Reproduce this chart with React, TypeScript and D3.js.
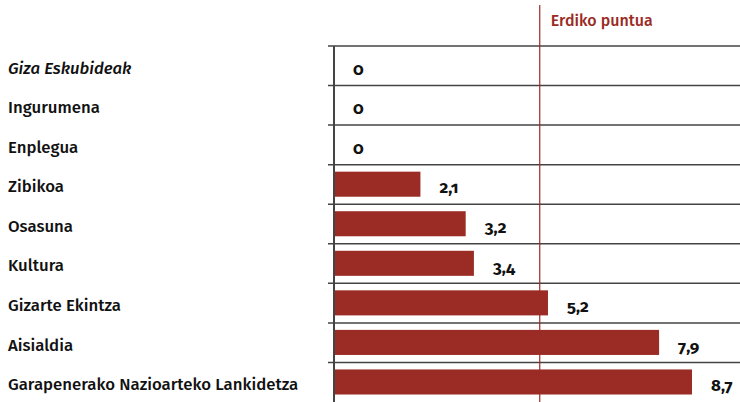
import React, { useEffect, useRef } from "react";
import * as d3 from "d3";

const categories = [
  "Giza Eskubideak",
  "Ingurumena",
  "Enplegua",
  "Zibikoa",
  "Osasuna",
  "Kultura",
  "Gizarte Ekintza",
  "Aisialdia",
  "Garapenerako Nazioarteko Lankidetza",
];
const values = [0, 0, 0, 2.1, 3.2, 3.4, 5.2, 7.9, 8.7];
const midpoint = 5;
const midLabel = "Erdiko puntua";

const W = 740;
const H = 402;
const RED = "#9a2b25";
const GRID = "#444";

const App = () => {
  const ref = useRef<SVGSVGElement>(null);

  useEffect(() => {
    const svg = d3.select(ref.current);
    svg.selectAll("*").remove();

    const x = d3.scaleLinear().domain([0, 10]).range([334, 745.5]);
    const y = d3.scaleBand().domain(categories).range([46, 402]);
    const fmt = (v: number) => String(v).replace(".", ",");

    // row lines
    svg
      .append("g")
      .selectAll("line")
      .data(categories)
      .join("line")
      .attr("x1", 328)
      .attr("x2", W)
      .attr("y1", (d) => y(d)!)
      .attr("y2", (d) => y(d)!)
      .attr("stroke", GRID)
      .attr("stroke-width", 1.5);

    // bars
    svg
      .append("g")
      .selectAll("rect")
      .data(values)
      .join("rect")
      .attr("x", x(0))
      .attr("y", (d, i) => y(categories[i])! + 7)
      .attr("width", (d) => x(d) - x(0))
      .attr("height", y.bandwidth() - 14.5)
      .attr("fill", RED);

    // midpoint line
    svg
      .append("line")
      .attr("x1", x(midpoint))
      .attr("x2", x(midpoint))
      .attr("y1", 5)
      .attr("y2", H)
      .attr("stroke", RED)
      .attr("stroke-width", 1.2);
    svg
      .append("text")
      .attr("x", x(midpoint) + 11)
      .attr("y", 26)
      .attr("fill", RED)
      .attr("font-size", 16)
      .attr("font-weight", 500)
      .text(midLabel);

    // axis line
    svg
      .append("line")
      .attr("x1", x(0))
      .attr("x2", x(0))
      .attr("y1", 46)
      .attr("y2", H)
      .attr("stroke", GRID)
      .attr("stroke-width", 2);

    // category labels
    svg
      .append("g")
      .selectAll("text")
      .data(categories)
      .join("text")
      .attr("x", 8)
      .attr("y", (d) => y(d)! + y.bandwidth() / 2 + 2)
      .attr("dy", "0.35em")
      .attr("font-size", 16.8)
      .attr("font-weight", 500)
      .attr("font-style", (d, i) => (i === 0 ? "italic" : "normal"))
      .attr("fill", "#111")
      .text((d) => d);

    // value labels
    svg
      .append("g")
      .selectAll("text")
      .data(values)
      .join("text")
      .attr("x", (d) => x(d) + 19)
      .attr("y", (d, i) => y(categories[i])! + y.bandwidth() / 2 + 3)
      .attr("dy", "0.35em")
      .attr("font-size", 17)
      .attr("font-weight", 700)
      .style("font-variant-numeric", "oldstyle-nums")
      .attr("fill", "#111")
      .text((d) => fmt(d));
  }, []);

  return (
    <svg
      ref={ref}
      width={W}
      height={H}
      style={{ position: "absolute", left: 0, top: 0, fontFamily: "'Fira Sans', 'Open Sans', sans-serif" }}
    />
  );
};

export default App;
